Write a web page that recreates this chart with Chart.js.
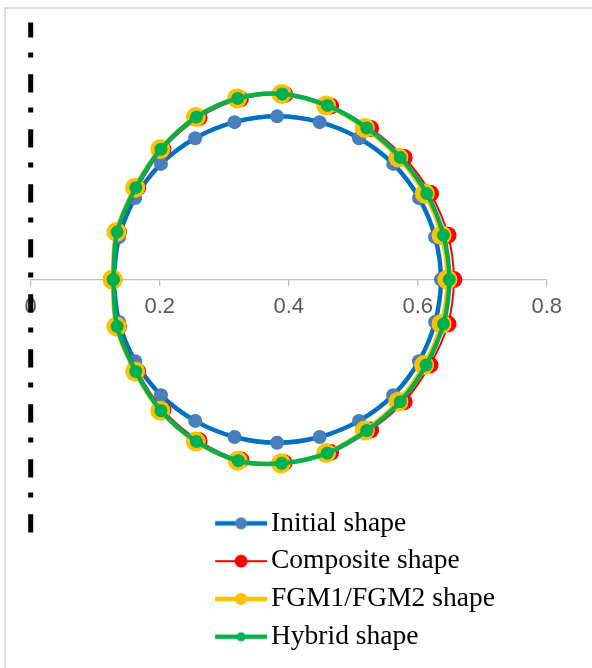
<!DOCTYPE html>
<html>
<head>
<meta charset="utf-8">
<script src="https://cdn.jsdelivr.net/npm/chart.js@4/dist/chart.umd.min.js"></script>
<style>
html,body{margin:0;padding:0;background:#ffffff;}
#wrap{position:relative;width:592px;height:668px;overflow:hidden;background:#fff;}
#frame{position:absolute;left:4px;top:7px;width:700px;height:700px;border-top:2px solid #dcdcdc;border-left:2px solid #dcdcdc;}
#c{position:absolute;left:0;top:0;}
</style>
</head>
<body>
<div id="wrap"><div id="frame"></div><canvas id="c" width="592" height="668"></canvas></div>
<script>
// ---- data ----
const seriesNames = ['Initial shape', 'Composite shape', 'FGM1/FGM2 shape', 'Hybrid shape'];

const initialX = [0.128,0.137,0.162,0.202,0.255,0.316,0.382,0.448,0.509,0.562,0.602,0.627,0.636,
                  0.627,0.602,0.562,0.509,0.448,0.382,0.316,0.255,0.202,0.162,0.137,0.128];
const initialY = [0,0.066,0.127,0.180,0.220,0.245,0.254,0.245,0.220,0.180,0.127,0.066,0,
                  -0.066,-0.127,-0.180,-0.220,-0.245,-0.254,-0.245,-0.220,-0.180,-0.127,-0.066,0];

const compositeX = [0.129,0.136,0.166,0.205,0.261,0.325,0.394,0.465,0.527,0.579,0.620,0.647,0.656,
                    0.647,0.619,0.579,0.527,0.465,0.393,0.326,0.261,0.205,0.166,0.136,0.129];
const compositeY = [0,0.074,0.143,0.203,0.252,0.281,0.288,0.270,0.235,0.190,0.134,0.069,0,
                    -0.069,-0.133,-0.190,-0.234,-0.269,-0.285,-0.281,-0.251,-0.203,-0.143,-0.073,0];

const fgmX = [0.127,0.133,0.162,0.201,0.256,0.320,0.389,0.458,0.518,0.570,0.611,0.637,0.646,
              0.637,0.610,0.570,0.518,0.458,0.388,0.321,0.256,0.201,0.162,0.133,0.127];
const fgmY = [0,0.074,0.143,0.203,0.253,0.282,0.289,0.271,0.236,0.190,0.134,0.069,0,
              -0.069,-0.133,-0.190,-0.235,-0.270,-0.286,-0.282,-0.252,-0.204,-0.143,-0.073,0];

const hybridX = [0.128,0.134,0.163,0.202,0.257,0.321,0.390,0.460,0.521,0.573,0.614,0.640,0.649,
                 0.640,0.613,0.573,0.521,0.460,0.389,0.322,0.257,0.202,0.163,0.134,0.128];
const hybridY = [0,0.074,0.143,0.203,0.253,0.282,0.289,0.271,0.236,0.190,0.134,0.069,0,
                 -0.069,-0.133,-0.190,-0.235,-0.270,-0.286,-0.282,-0.252,-0.204,-0.143,-0.073,0];

// vertical dash-dot symmetry line at x = 0
const symLineX = [0, 0];
const symLineY = [0.4, -0.4];

const xTickValues = [0, 0.2, 0.4, 0.6, 0.8];
const xTickLabels = ['0', '0.2', '0.4', '0.6', '0.8'];

// ---- helpers ----
function zip(xs, ys) { return xs.map((x, i) => ({x: x, y: ys[i]})); }

function legendIcon(lineColor, lineWidth, markerColor, r) {
  const c = document.createElement('canvas');
  c.width = 240; c.height = 20;
  const g = c.getContext('2d');
  g.strokeStyle = lineColor; g.lineWidth = lineWidth;
  g.beginPath(); g.moveTo(186, 10); g.lineTo(238, 10); g.stroke();
  g.fillStyle = markerColor;
  g.beginPath(); g.arc(212, 10, r, 0, Math.PI * 2); g.fill();
  return c;
}

const styles = [
  {line: '#0070C0', lw: 4.5, marker: '#4A7EBB', r: 7,   lr: 6,   llw: 4.5},
  {line: '#FF0000', lw: 2,   marker: '#FF0000', r: 8.5, lr: 6.5, llw: 2},
  {line: '#FFC000', lw: 4.5, marker: '#FFC000', r: 10,  lr: 6,   llw: 4.5},
  {line: '#00B050', lw: 4.5, marker: '#00B050', r: 6.5, lr: 4.5, llw: 4.5}
];
const icons = styles.map(s => legendIcon(s.line, s.llw, s.marker, s.lr));

const seriesData = [zip(initialX, initialY), zip(compositeX, compositeY), zip(fgmX, fgmY), zip(hybridX, hybridY)];
const drawOrder = [3, 2, 1, 0];

const datasets = seriesNames.map((name, i) => ({
  label: name,
  data: seriesData[i],
  showLine: true,
  tension: 0.35,
  borderColor: styles[i].line,
  borderWidth: styles[i].lw,
  backgroundColor: styles[i].marker,
  pointBackgroundColor: styles[i].marker,
  pointBorderWidth: 0,
  pointRadius: styles[i].r,
  pointHoverRadius: styles[i].r,
  order: drawOrder[i]
}));
datasets.push({
  label: 'axis',
  data: zip(symLineX, symLineY),
  showLine: true,
  tension: 0,
  borderColor: '#000000',
  borderWidth: 5,
  borderDash: [18.3, 15, 5, 16.7],
  borderDashOffset: 3.3,
  pointRadius: 0,
  clip: false,
  order: 10
});

new Chart(document.getElementById('c'), {
  type: 'scatter',
  data: {datasets: datasets},
  options: {
    responsive: false,
    animation: false,
    events: [],
    layout: {padding: {left: 30.7, right: 45.3, top: 20, bottom: 7.5}},
    scales: {
      x: {
        type: 'linear',
        position: {y: 0},
        min: 0, max: 0.8,
        afterBuildTicks: (axis) => { axis.ticks = xTickValues.map(v => ({value: v})); },
        ticks: {
          callback: (v, i) => xTickLabels[i],
          font: {family: 'Liberation Sans', size: 22},
          color: '#595959',
          padding: 8.5,
          maxRotation: 0,
          autoSkip: false
        },
        grid: {drawOnChartArea: false, drawTicks: true, tickLength: 6, color: '#BFBFBF', lineWidth: 1.3},
        border: {display: true, color: '#BFBFBF', width: 1.3}
      },
      y: {type: 'linear', min: -0.342, max: 0.404, display: false}
    },
    plugins: {
      tooltip: {enabled: false},
      legend: {
        position: 'bottom',
        align: 'start',
        labels: {
          usePointStyle: true,
          pointStyleWidth: 216.25,
          padding: 10.3,
          color: '#000000',
          font: {family: 'Liberation Serif', size: 27.5},
          generateLabels: () => seriesNames.map((name, i) => ({
            text: name,
            pointStyle: icons[i],
            datasetIndex: i,
            fillStyle: 'rgba(0,0,0,0)',
            strokeStyle: 'rgba(0,0,0,0)',
            lineWidth: 0,
            hidden: false,
            fontColor: '#000000'
          }))
        }
      }
    }
  }
});
</script>
</body>
</html>
